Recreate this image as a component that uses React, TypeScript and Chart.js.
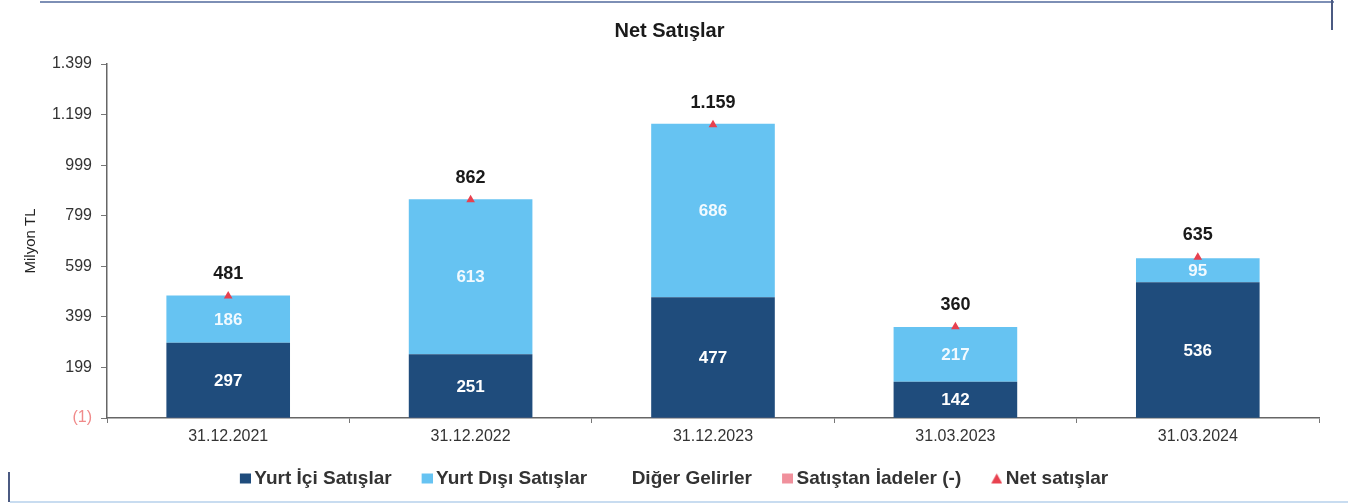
import React, { useEffect, useRef } from "react";
import { Chart, registerables } from "chart.js";

Chart.register(...registerables);

const categories = ["31.12.2021", "31.12.2022", "31.12.2023", "31.03.2023", "31.03.2024"];
const yurtIci = [297, 251, 477, 142, 536];
const yurtDisi = [186, 613, 686, 217, 95];
const digerGelirler = [0, 0, 0, 1, 4];
const iadeler = [-2, -2, -4, 0, 0];
const netSatislar = [481, 862, 1159, 360, 635];
const yMin = -1;
const yMax = 1399;
const yStep = 200;

const NAVY = "#1f4c7c";
const LIGHT = "#66c3f2";
const PINK = "#f0909c";
const RED = "#e8414f";
const FONT = "'Liberation Sans', Arial, sans-serif";

function fmt(v: number): string {
  if (v < 0) return "(" + fmt(-v) + ")";
  return v.toLocaleString("de-DE");
}

// legend marker image: 26px wide, marker drawn at its right end
function markerCanvas(kind: string, color: string): HTMLCanvasElement {
  const c = document.createElement("canvas");
  c.width = 26;
  c.height = 12;
  const g = c.getContext("2d")!;
  g.fillStyle = color;
  if (kind === "rect") {
    g.fillRect(15, 1, 11, 10);
  } else if (kind === "tri") {
    g.beginPath();
    g.moveTo(20.5, 1);
    g.lineTo(26, 11);
    g.lineTo(15, 11);
    g.closePath();
    g.fill();
  }
  return c;
}

const labelPlugin = {
  id: "valueLabels",
  afterDatasetsDraw(chart: any) {
    const ctx = chart.ctx;
    ctx.save();
    ctx.textAlign = "center";
    ctx.textBaseline = "middle";
    [0, 1].forEach((di) => {
      const meta = chart.getDatasetMeta(di);
      const data = chart.data.datasets[di].data as number[];
      meta.data.forEach((el: any, i: number) => {
        const v = data[i];
        const { x, y, base } = el.getProps(["x", "y", "base"], true);
        ctx.font = "bold 17px " + FONT;
        ctx.fillStyle = di === 0 ? "#ffffff" : "#f2faff";
        ctx.fillText(fmt(v), x, (y + base) / 2 + 1);
      });
    });
    const lm = chart.getDatasetMeta(4);
    lm.data.forEach((el: any, i: number) => {
      const { x, y } = el.getProps(["x", "y"], true);
      ctx.font = "bold 18px " + FONT;
      ctx.fillStyle = "#1a1a1a";
      ctx.fillText(fmt(netSatislar[i]), x, y - 22);
    });
    ctx.restore();
  },
};

export default function App() {
  const ref = useRef<HTMLCanvasElement>(null);
  useEffect(() => {
    document.body.style.margin = "0";
    const markers = [
      markerCanvas("rect", NAVY),
      markerCanvas("rect", LIGHT),
      markerCanvas("none", "#fff"),
      markerCanvas("rect", PINK),
      markerCanvas("tri", RED),
    ];
    const chart = new Chart(ref.current!, {
      type: "bar",
      data: {
        labels: categories,
        datasets: [
          { type: "bar", label: "Yurt İçi Satışlar", data: yurtIci, backgroundColor: NAVY, stack: "a", order: 2 },
          { type: "bar", label: "Yurt Dışı Satışlar", data: yurtDisi, backgroundColor: LIGHT, stack: "a", order: 2 },
          { type: "bar", label: "Diğer Gelirler", data: digerGelirler, backgroundColor: "#ffffff", stack: "a", order: 2 },
          { type: "bar", label: "Satıştan İadeler (-)", data: iadeler, backgroundColor: PINK, stack: "a", order: 2 },
          {
            type: "line",
            label: "Net satışlar",
            data: netSatislar,
            stack: "net",
            showLine: false,
            pointStyle: "triangle",
            pointRadius: 5,
            backgroundColor: RED,
            borderColor: RED,
            borderWidth: 0,
            order: 1,
          } as any,
        ],
      },
      options: {
        animation: false,
        responsive: true,
        maintainAspectRatio: false,
        layout: { padding: { left: 20, right: 29, top: 0, bottom: 6 } },
        datasets: { bar: { barPercentage: 0.51, categoryPercentage: 1.0 } } as any,
        plugins: {
          title: {
            display: true,
            text: "Net Satışlar",
            font: { family: FONT, size: 20, weight: "bold" },
            color: "#1a1a1a",
            padding: { top: 19, bottom: 21 },
          },
          legend: {
            position: "bottom",
            labels: {
              font: { family: FONT, size: 19, weight: "bold" },
              color: "#333333",
              usePointStyle: true,
              pointStyleWidth: 14,
              boxHeight: 12,
              padding: 21,
              generateLabels: (ch: any) =>
                ch.data.datasets.map((ds: any, i: number) => ({
                  text: ds.label,
                  pointStyle: markers[i],
                  fillStyle: "transparent",
                  strokeStyle: "transparent",
                  lineWidth: 0,
                  hidden: false,
                  datasetIndex: i,
                  fontColor: "#333333",
                })),
            },
          } as any,
          tooltip: { enabled: false },
        },
        scales: {
          x: {
            stacked: true,
            grid: { drawOnChartArea: false, drawTicks: true, tickLength: 5, color: "#777" },
            border: { color: "#666", width: 1.5 },
            ticks: { font: { family: FONT, size: 16 }, color: "#333", padding: 4 },
            afterFit: (s: any) => {
              s.height = 30;
            },
          },
          y: {
            stacked: true,
            min: yMin,
            max: yMax,
            grid: { drawOnChartArea: false, drawTicks: true, tickLength: 6, color: "#777" },
            border: { color: "#666", width: 1.5 },
            ticks: {
              stepSize: yStep,
              padding: 9,
              font: { family: FONT, size: 16 },
              color: (c: any) => (c.tick && c.tick.value < 0 ? "#f08a8a" : "#333"),
              callback: (v: any) => fmt(Number(v)),
            },
            title: {
              display: true,
              text: "Milyon TL",
              font: { family: FONT, size: 15 },
              color: "#222",
              padding: { top: 2, bottom: 8 },
            },
            afterFit: (s: any) => {
              s.width = 87;
            },
          },
        },
      },
      plugins: [labelPlugin],
    });
    return () => chart.destroy();
  }, []);

  return (
    <div style={{ position: "relative", width: 1348, height: 504, background: "#fff" }}>
      <canvas ref={ref} />
      <div style={{ position: "absolute", left: 40, top: 1, width: 1294, height: 2, background: "#7d8fb5" }} />
      <div style={{ position: "absolute", left: 1331, top: 0, width: 2, height: 30, background: "#4b5a82" }} />
      <div style={{ position: "absolute", left: 8, top: 472, width: 2, height: 30, background: "#4b5a82" }} />
      <div style={{ position: "absolute", left: 10, top: 501, width: 1338, height: 2, background: "#c8dcf0" }} />
    </div>
  );
}
